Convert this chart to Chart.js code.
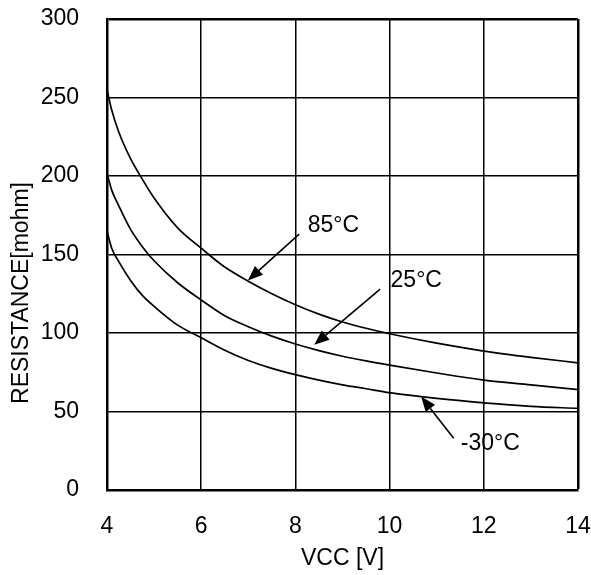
<!DOCTYPE html>
<html>
<head>
<meta charset="utf-8">
<script src="https://cdn.jsdelivr.net/npm/chart.js@4/dist/chart.umd.min.js"></script>
<style>
  html, body { margin: 0; padding: 0; background: #fff; }
  canvas { display: block; }
</style>
</head>
<body>
<canvas id="chart" width="591" height="575"></canvas>
<script>
// VCC [V] sample points
const vcc      = [4, 4.1, 4.25, 4.5, 4.75, 5, 5.5, 6, 6.5, 7, 7.5, 8, 8.5, 9, 9.5, 10, 11, 12, 13, 14];
// resistance [mohm] for each temperature
const r85      = [255, 242, 228, 211, 198, 186, 167, 154, 142, 133, 125, 118, 112, 107, 103, 99.5, 93.5, 88.5, 84.5, 81];
const r25      = [202, 191, 181, 166, 155, 146, 132, 121, 111, 104, 98, 93, 88.8, 85.2, 82.2, 79.5, 74.5, 70, 67, 64];
const rMinus30 = [165, 154, 145.5, 133.5, 124, 117, 105, 97, 89, 82.5, 77.5, 73.5, 70, 67, 64.5, 62, 58.3, 55.5, 53.3, 52];

const xTicks = [4, 6, 8, 10, 12, 14];
const yTicks = [0, 50, 100, 150, 200, 250, 300];

// callout labels + arrows, in data units
const callouts = [
  { text: "85°C",  at: [8.26, 168.5], tail: [8.08, 163], head: [6.99, 133.5] },
  { text: "25°C",  at: [10.02, 133.5], tail: [9.8, 128],  head: [8.4, 92.5] },
  { text: "-30°C", at: [11.51, 29.5], tail: [11.36, 33], head: [10.67, 59.5] }
];

const FONT = "'Liberation Sans', Arial, sans-serif";
const FSIZE = 23;

const toPoints = ys => vcc.map((x, i) => ({ x, y: ys[i] }));

function drawArrow(ctx, x1, y1, x2, y2) {
  const ang = Math.atan2(y2 - y1, x2 - x1);
  const len = 15, half = 6;
  const bx = x2 - len * Math.cos(ang), by = y2 - len * Math.sin(ang);
  ctx.beginPath();
  ctx.moveTo(x1, y1);
  ctx.lineTo(bx, by);
  ctx.stroke();
  ctx.beginPath();
  ctx.moveTo(x2, y2);
  ctx.lineTo(bx + half * Math.sin(ang), by - half * Math.cos(ang));
  ctx.lineTo(bx - half * Math.sin(ang), by + half * Math.cos(ang));
  ctx.closePath();
  ctx.fill();
}

const calloutPlugin = {
  id: "callouts",
  afterDraw(chart) {
    const { ctx, scales: { x, y } } = chart;
    ctx.save();
    ctx.strokeStyle = "#000";
    ctx.fillStyle = "#000";
    ctx.lineWidth = 1.6;
    ctx.font = FSIZE + "px " + FONT;
    ctx.textAlign = "left";
    ctx.textBaseline = "middle";
    callouts.forEach(c => {
      drawArrow(ctx,
        x.getPixelForValue(c.tail[0]), y.getPixelForValue(c.tail[1]),
        x.getPixelForValue(c.head[0]), y.getPixelForValue(c.head[1]));
      ctx.fillText(c.text, x.getPixelForValue(c.at[0]), y.getPixelForValue(c.at[1]));
    });
    // y axis title (sits a bit below the middle in the original)
    ctx.translate(22, 293);
    ctx.rotate(-Math.PI / 2);
    ctx.textAlign = "center";
    ctx.fillText("RESISTANCE[mohm]", 0, 0);
    ctx.restore();
  }
};

const lineStyle = {
  borderColor: "#000",
  borderWidth: 1.7,
  pointRadius: 0,
  fill: false,
  cubicInterpolationMode: "monotone"
};

new Chart(document.getElementById("chart"), {
  type: "line",
  data: {
    datasets: [
      { label: "85°C", data: toPoints(r85), ...lineStyle },
      { label: "25°C", data: toPoints(r25), ...lineStyle },
      { label: "-30°C", data: toPoints(rMinus30), ...lineStyle }
    ]
  },
  options: {
    responsive: false,
    animation: false,
    layout: { padding: { top: 19, right: 13, left: 0, bottom: 0 } },
    plugins: { legend: { display: false }, tooltip: { enabled: false } },
    scales: {
      x: {
        type: "linear",
        min: 4, max: 14,
        afterFit: s => { s.height = 85; s.paddingLeft = 0; s.paddingRight = 0; },
        afterBuildTicks: s => { s.ticks = xTicks.map(v => ({ value: v })); },
        grid: {
          color: "#000",
          lineWidth: c => (c.tick && c.tick.value === 14 ? 2.5 : 1.5),
          drawTicks: false
        },
        border: { color: "#000", width: 2.5 },
        ticks: { color: "#000", font: { size: FSIZE, family: FONT }, padding: 23, maxRotation: 0 },
        title: {
          display: true, text: "VCC [V]", color: "#000",
          font: { size: FSIZE, family: FONT }, padding: { top: 0, bottom: 3 }
        }
      },
      y: {
        min: 0, max: 300,
        afterFit: s => { s.width = 107; s.paddingTop = 0; s.paddingBottom = 0; },
        afterBuildTicks: s => { s.ticks = yTicks.map(v => ({ value: v })); },
        grid: {
          color: "#000",
          lineWidth: c => (c.tick && c.tick.value === 300 ? 2.5 : 1.5),
          drawTicks: false
        },
        border: { color: "#000", width: 2.5 },
        ticks: { color: "#000", font: { size: FSIZE, family: FONT }, padding: 28 }
      }
    }
  },
  plugins: [calloutPlugin]
});
</script>
</body>
</html>
